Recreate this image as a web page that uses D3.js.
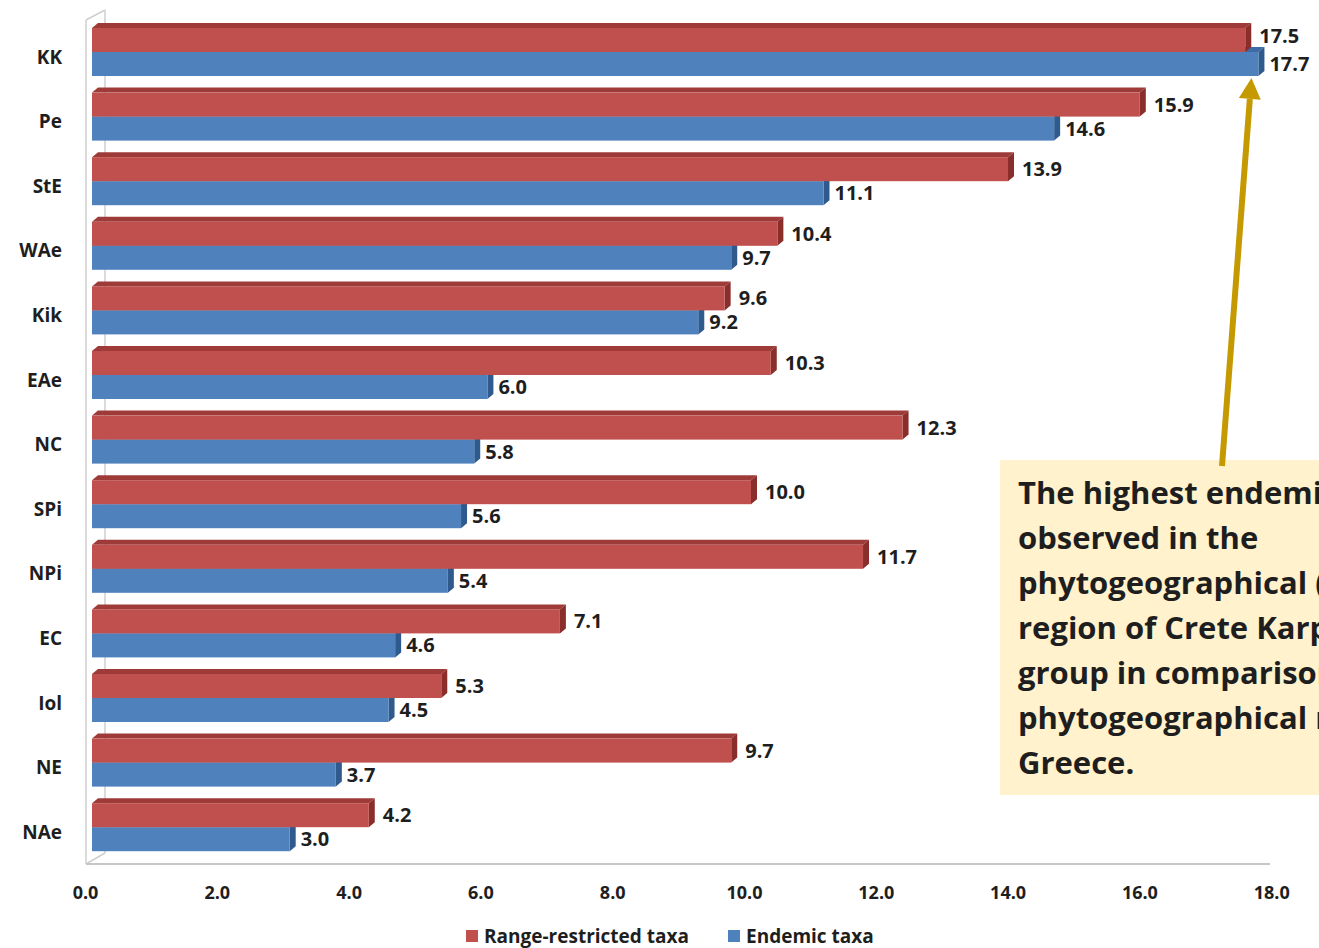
<!DOCTYPE html>
<html>
<head>
<meta charset="utf-8">
<script src="https://cdn.jsdelivr.net/npm/d3@7"></script>
<style>
  html, body { margin: 0; padding: 0; background: #fff; overflow: hidden; }
  svg { display: block; }
  text { font-family: "Open Sans", "Noto Sans", sans-serif; font-weight: 700; fill: #1e1e1e; }
</style>
</head>
<body>
<svg id="chart" width="1319" height="948"></svg>
<script>
// Phytogeographical regions, top to bottom
const categories = ["KK", "Pe", "StE", "WAe", "Kik", "EAe", "NC", "SPi", "NPi", "EC", "Iol", "NE", "NAe"];
// Percentages per region
const rangeRestricted = [17.5, 15.9, 13.9, 10.4, 9.6, 10.3, 12.3, 10.0, 11.7, 7.1, 5.3, 9.7, 4.2];
const endemic = [17.7, 14.6, 11.1, 9.7, 9.2, 6.0, 5.8, 5.6, 5.4, 4.6, 4.5, 3.7, 3.0];
const xTicks = [0, 2, 4, 6, 8, 10, 12, 14, 16, 18];
const seriesNames = ["Range-restricted taxa", "Endemic taxa"];
const noteLines = [
  "The highest endemism is",
  "observed in the",
  "phytogeographical (floristic)",
  "region of Crete Karpathos",
  "group in comparison to the",
  "phytogeographical regions of",
  "Greece."
];

const svg = d3.select("#chart");

// bar length scale (front faces start just right of the side wall)
const x = d3.scaleLinear().domain([0, 18]).range([92, 92 + 18 * 65.9]);
// each band holds the red bar above the blue bar
const y = d3.scaleBand().domain(categories).range([28, 851.2]).paddingInner(0.257).paddingOuter(0).align(0);
const barH = y.bandwidth() / 2;
const depthX = 6, depthY = -5;   // 3-D extrusion offset

const colors = {
  red:  { front: "#C0504D", top: "#9E3B39", side: "#8A2E2C" },
  blue: { front: "#4F81BD", top: "#3E6BA2", side: "#2F5A8E" }
};

// ---- walls / floor ----
const wall = svg.append("g").attr("stroke", "#cfcfcf").attr("fill", "none");
wall.append("line").attr("x1", 86).attr("y1", 20).attr("x2", 86).attr("y2", 864).attr("stroke-width", 1.5);
wall.append("line").attr("x1", 86).attr("y1", 20).attr("x2", 105).attr("y2", 10).attr("stroke-width", 1.5);
wall.append("line").attr("x1", 105).attr("y1", 10).attr("x2", 105).attr("y2", 853).attr("stroke-width", 1.5);
wall.append("line").attr("x1", 86).attr("y1", 864).attr("x2", 105).attr("y2", 853).attr("stroke-width", 1.5);
wall.append("line").attr("x1", 86).attr("y1", 864).attr("x2", 1270).attr("y2", 864).attr("stroke-width", 2.2).attr("stroke", "#c6c6c6");

// ---- 3-D bars ----
function drawBar(g, value, yTop, c) {
  const x0 = x(0), x1 = x(value), y0 = yTop, y1 = yTop + barH;
  // top face
  g.append("path")
    .attr("d", `M${x0},${y0} L${x1},${y0} L${x1 + depthX},${y0 + depthY} L${x0 + depthX},${y0 + depthY} Z`)
    .attr("fill", c.top);
  // right side face
  g.append("path")
    .attr("d", `M${x1},${y0} L${x1 + depthX},${y0 + depthY} L${x1 + depthX},${y1 + depthY} L${x1},${y1} Z`)
    .attr("fill", c.side);
  // front face
  g.append("rect")
    .attr("x", x0).attr("y", y0).attr("width", x1 - x0).attr("height", barH)
    .attr("fill", c.front);
}

const rows = svg.append("g").selectAll("g").data(categories).join("g");
rows.each(function (cat, i) {
  const g = d3.select(this);
  const top = y(cat);
  drawBar(g, endemic[i], top + barH, colors.blue);
  drawBar(g, rangeRestricted[i], top, colors.red);
});

// ---- value labels ----
const labels = svg.append("g").attr("font-size", 20);
categories.forEach((cat, i) => {
  // the top pair sits close together, so its upper label is lifted a little
  const lift = i === 0 ? 4 : 0;
  labels.append("text")
    .attr("x", x(rangeRestricted[i]) + 14)
    .attr("y", y(cat) + barH / 2 - lift)
    .attr("dy", "0.35em")
    .text(rangeRestricted[i].toFixed(1));
  labels.append("text")
    .attr("x", x(endemic[i]) + 11)
    .attr("y", y(cat) + barH * 1.5)
    .attr("dy", "0.35em")
    .text(endemic[i].toFixed(1));
});

// ---- category axis ----
svg.append("g").attr("font-size", 19).attr("text-anchor", "end")
  .selectAll("text").data(categories).join("text")
  .attr("x", 62)
  .attr("y", d => y(d) + y.bandwidth() / 2 + 5)
  .attr("dy", "0.35em")
  .text(d => d);

// ---- value axis (drawn on the front edge of the floor) ----
const xAxis = d3.axisBottom(x.copy().range([85, 85 + 18 * 65.9]))
  .tickValues(xTicks).tickFormat(d3.format(".1f")).tickSize(0).tickPadding(0);
const ax = svg.append("g").attr("transform", "translate(0,893)").call(xAxis);
ax.select(".domain").remove();
ax.selectAll("text").attr("font-size", 18).attr("dy", "0.35em").attr("y", 0)
  .style("font-family", "\"Open Sans\", sans-serif").style("font-weight", 700).attr("fill", "#1e1e1e");

// ---- legend ----
const legend = svg.append("g").attr("font-size", 19);
const legendItems = [
  { name: seriesNames[0], color: colors.red.front, x: 466 },
  { name: seriesNames[1], color: colors.blue.front, x: 728 }
];
legendItems.forEach(it => {
  legend.append("rect").attr("x", it.x).attr("y", 930).attr("width", 12).attr("height", 12).attr("fill", it.color);
  legend.append("text").attr("x", it.x + 18).attr("y", 936).attr("dy", "0.35em").text(it.name);
});

// ---- annotation box and arrow ----
svg.append("rect").attr("x", 1000).attr("y", 460).attr("width", 360).attr("height", 335).attr("fill", "#FFF2CC");
const note = svg.append("g").attr("font-size", 31);
noteLines.forEach((line, i) => {
  note.append("text").attr("x", 1018).attr("y", 493 + i * 45).attr("dy", "0.35em").text(line);
});

// arrow from the note to the KK endemic bar
const tip = [x(endemic[0]) - 7, y("KK") + y.bandwidth() + 2];
const base = [1222, 466];
const ang = Math.atan2(tip[1] - base[1], tip[0] - base[0]);
const headLen = 21, headHalf = 11;
const hb = [tip[0] - headLen * Math.cos(ang), tip[1] - headLen * Math.sin(ang)];
const perp = [-Math.sin(ang), Math.cos(ang)];
svg.append("line")
  .attr("x1", base[0]).attr("y1", base[1]).attr("x2", hb[0]).attr("y2", hb[1])
  .attr("stroke", "#C49A00").attr("stroke-width", 6);
svg.append("path")
  .attr("d", `M${tip[0]},${tip[1]} L${hb[0] + perp[0] * headHalf},${hb[1] + perp[1] * headHalf} L${hb[0] - perp[0] * headHalf},${hb[1] - perp[1] * headHalf} Z`)
  .attr("fill", "#C49A00");
</script>
</body>
</html>
